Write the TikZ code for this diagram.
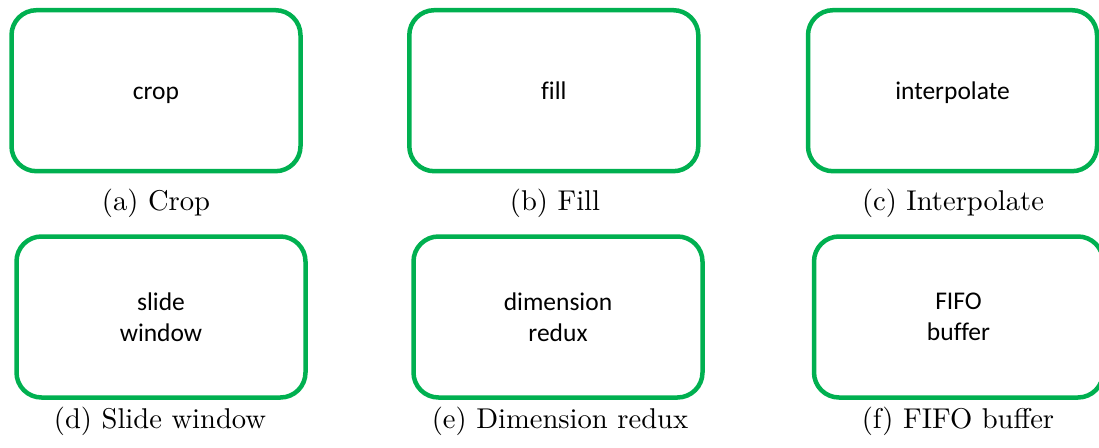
\documentclass[tikz,border=0pt]{standalone}
\usepackage{fontspec}
\newfontfamily\boxfont{Carlito}[Ligatures=CommonOff]
\definecolor{boxgreen}{RGB}{0,176,80}
\begin{document}
\begin{tikzpicture}[x=1pt,y=-1pt,
  opbox/.style={draw=boxgreen, line width=4.5pt, rounded corners=25pt,
    rectangle, minimum width=289pt, minimum height=161pt, inner sep=0pt,
    align=center, font=\boxfont\fontsize{25.5}{30.5}\selectfont},
  oneline/.style={text height=20pt, text depth=3.4pt},
  subcap/.style={anchor=base, inner sep=0pt, scale=2.86, transform shape,
    font=\fontsize{10}{12}\selectfont}]
\useasboundingbox (0,0) rectangle (1099,447);
\clip (0,0) rectangle (1099,447);
\node[opbox, oneline] (a) at (156,90.7) {crop};
\node[opbox, oneline] (b) at (553.8,90.7) {fill};
\node[opbox, oneline] (c) at (952.5,90.7) {interpolate};
\node[opbox] (d) at (161,317) {slide\\window};
\node[opbox] (e) at (558,317) {dimension\\redux};
\node[opbox] (f) at (958.5,317) {FIFO\\buffer};
\node[subcap] (ca) at (156,210) {(a) Crop};
\node[subcap] (cb) at (555,210) {(b) Fill};
\node[subcap] (cc) at (953,210) {(c) Interpolate};
\node[subcap] (cd) at (160,428) {(d) Slide window};
\node[subcap] (ce) at (560,428) {(e) Dimension redux};
\node[subcap] (cf) at (958,428) {(f) FIFO buffer};
\end{tikzpicture}
\end{document}
